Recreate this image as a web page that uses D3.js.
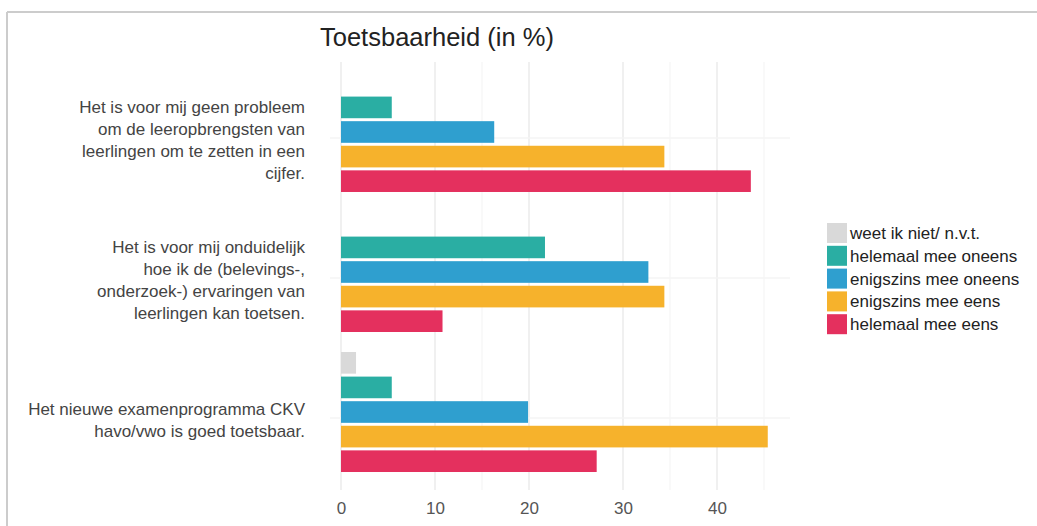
<html>
<head>
    <style>
        html, body {
            margin: 0;
            background-color: #ffffff;
            font-family: "Liberation Sans", Arial, sans-serif;
        }
        svg { display: block; }
        .grid line { stroke: #ebebeb; stroke-width: 1.5; }
        .minor line { stroke: #f7f7f7; stroke-width: 1.5; }
        .catline line { stroke: #f5f5f5; stroke-width: 1.5; }
        .xAxis text { fill: #555555; font-size: 17px; font-family: "Liberation Sans", Arial, sans-serif; }
        .xAxis path, .xAxis line { display: none; }
        .label { fill: #444444; font-size: 17px; }
        .legend text { fill: #222222; font-size: 17px; }
    </style>
</head>
<body>
    <div id="chart"></div>

<script src="https://d3js.org/d3.v7.min.js"></script>
<script>
    // ---- data ----
    var questions = [
        ["Het is voor mij geen probleem", "om de leeropbrengsten van", "leerlingen om te zetten in een", "cijfer."],
        ["Het is voor mij onduidelijk", "hoe ik de (belevings-,", "onderzoek-) ervaringen van", "leerlingen kan toetsen."],
        ["Het nieuwe examenprogramma CKV", "havo/vwo is goed toetsbaar."]
    ];
    var series = ["weet ik niet/ n.v.t.", "helemaal mee oneens", "enigszins mee oneens", "enigszins mee eens", "helemaal mee eens"];
    var colors = ["#d9d9d9", "#2aaea3", "#2f9fcf", "#f6b22c", "#e4305e"];

    var weetNiet = [0, 0, 1.6];
    var helemaalOneens = [5.4, 21.7, 5.4];
    var enigszinsOneens = [16.3, 32.7, 19.9];
    var enigszinsEens = [34.4, 34.4, 45.4];
    var helemaalEens = [43.6, 10.8, 27.2];

    var xTicks = [0, 10, 20, 30, 40];
    var minorTicks = [15, 35, 45];

    var values = [weetNiet, helemaalOneens, enigszinsOneens, enigszinsEens, helemaalEens];

    var width = 1037, height = 526;

    var svg = d3.select("#chart").append("svg")
        .attr("width", width)
        .attr("height", height);

    // frame
    svg.append("line").attr("x1", 7).attr("x2", width).attr("y1", 12).attr("y2", 12)
        .attr("stroke", "#cccccc").attr("stroke-width", 2);
    svg.append("line").attr("x1", 7).attr("x2", 7).attr("y1", 12).attr("y2", height)
        .attr("stroke", "#cccccc").attr("stroke-width", 2);

    // title
    svg.append("text")
        .attr("x", 320)
        .attr("y", 46)
        .attr("fill", "#222222")
        .style("font-size", "25.5px")
        .text("Toetsbaarheid (in %)");

    // scales
    var xscale = d3.scaleLinear()
        .domain([0, 40])
        .range([341, 717]);

    var yscale = d3.scaleBand()
        .domain(d3.range(questions.length))
        .range([62, 482])
        .paddingInner(0.143)
        .paddingOuter(0.0714);

    var sub = d3.scaleBand()
        .domain(d3.range(series.length))
        .range([0, yscale.bandwidth()])
        .paddingInner(0.12);

    // gridlines
    svg.append("g").attr("class", "minor")
        .selectAll("line").data(minorTicks).enter().append("line")
        .attr("x1", d => xscale(d)).attr("x2", d => xscale(d))
        .attr("y1", 62).attr("y2", 490);

    svg.append("g").attr("class", "grid")
        .selectAll("line").data(xTicks).enter().append("line")
        .attr("x1", d => xscale(d)).attr("x2", d => xscale(d))
        .attr("y1", 62).attr("y2", 490);

    svg.append("g").attr("class", "catline")
        .selectAll("line").data(d3.range(questions.length)).enter().append("line")
        .attr("x1", 330).attr("x2", 790)
        .attr("y1", d => yscale(d) + yscale.bandwidth() / 2 + 6)
        .attr("y2", d => yscale(d) + yscale.bandwidth() / 2 + 6);

    // x axis labels
    var x_axis = d3.axisBottom(xscale)
        .tickValues(xTicks)
        .tickSize(0)
        .tickPadding(0);
    svg.append("g")
        .attr("class", "xAxis")
        .attr("transform", "translate(0,502)")
        .call(x_axis)
        .selectAll("text")
        .attr("dy", "0.71em");

    // bars
    var groups = svg.selectAll(".group")
        .data(d3.range(questions.length))
        .enter().append("g")
        .attr("class", "group")
        .attr("transform", d => "translate(0," + yscale(d) + ")");

    groups.selectAll("rect")
        .data(q => values.map((s, i) => ({ s: i, v: s[q] })))
        .enter().append("rect")
        .attr("x", xscale(0))
        .attr("y", d => sub(d.s))
        .attr("width", d => xscale(d.v) - xscale(0))
        .attr("height", sub.bandwidth())
        .attr("fill", d => colors[d.s]);

    // category labels
    var lineH = 21.8;
    questions.forEach(function (lines, q) {
        var cy = yscale(q) + yscale.bandwidth() / 2 + 8;
        var t = svg.append("text")
            .attr("class", "label")
            .attr("text-anchor", "end");
        lines.forEach(function (l, i) {
            t.append("tspan")
                .attr("x", 305)
                .attr("y", cy + (i - (lines.length - 1) / 2) * lineH + 6)
                .text(l);
        });
    });

    // legend
    var legend = svg.append("g")
        .attr("class", "legend")
        .attr("transform", "translate(827,223)");

    var item = legend.selectAll("g")
        .data(series)
        .enter().append("g")
        .attr("transform", (d, i) => "translate(0," + i * 22.8 + ")");

    item.append("rect")
        .attr("width", 20)
        .attr("height", 20)
        .attr("fill", (d, i) => colors[i]);

    item.append("text")
        .attr("x", 23)
        .attr("y", 16)
        .text(d => d);
</script>
</body>
</html>
